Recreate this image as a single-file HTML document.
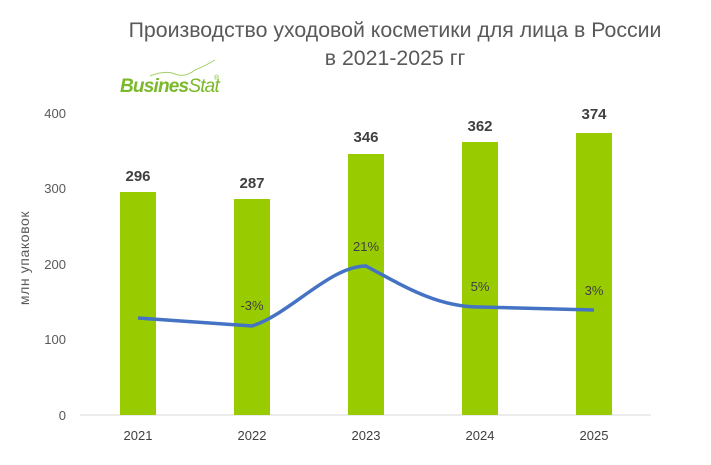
<!DOCTYPE html>
<html><head><meta charset="utf-8"><style>
body{margin:0;background:#fff;}
</style></head><body>
<svg width="711" height="460" xmlns="http://www.w3.org/2000/svg" font-family="Liberation Sans, sans-serif">
<rect width="711" height="460" fill="#fff"/>
<text x="395" y="37" font-size="21.3" fill="#595959" text-anchor="middle">Производство уходовой косметики для лица в России</text>
<text x="395" y="65" font-size="21.3" fill="#595959" text-anchor="middle">в 2021-2025 гг</text>
<path d="M150 76 Q165 70 175 74 T195 70 Q205 66 215 60" stroke="#a6cf6a" stroke-width="1" fill="none"/>
<text x="120" y="92" font-size="19" font-weight="bold" font-style="italic" fill="#7ab929" letter-spacing="-0.8">Busines<tspan font-weight="normal">Stat</tspan></text>
<text x="214" y="80" font-size="7" fill="#7ab929">®</text>
<g font-size="13" fill="#595959" text-anchor="end">
<text x="66" y="420">0</text><text x="66" y="344">100</text><text x="66" y="269">200</text><text x="66" y="193">300</text><text x="66" y="118">400</text>
</g>
<text transform="translate(29,258) rotate(-90)" font-size="14" fill="#595959" text-anchor="middle" letter-spacing="0.6">млн  упаковок</text>
<line x1="80" y1="415" x2="651" y2="415" stroke="#d9d9d9"/>
<g fill="#99cc00">
<rect x="120" y="192" width="36" height="223"/>
<rect x="234" y="199" width="36" height="216"/>
<rect x="348" y="154" width="36" height="261"/>
<rect x="462" y="142" width="36" height="273"/>
<rect x="576" y="133" width="36" height="282"/>
</g>
<g font-size="15" font-weight="bold" fill="#404040" text-anchor="middle">
<text x="138" y="181">296</text><text x="252" y="188">287</text><text x="366" y="142">346</text><text x="480" y="131">362</text><text x="594" y="119">374</text>
</g>
<path d="M138 318 L252 326 C290 314 330 266 366 266 C410 290 440 307 480 307 L594 310" stroke="#4472c4" stroke-width="3.5" fill="none"/>
<g font-size="13" fill="#404040" text-anchor="middle">
<text x="252" y="310">-3%</text><text x="366" y="251">21%</text><text x="480" y="291">5%</text><text x="594" y="295">3%</text>
</g>
<g font-size="13" fill="#404040" text-anchor="middle">
<text x="138" y="440">2021</text><text x="252" y="440">2022</text><text x="366" y="440">2023</text><text x="480" y="440">2024</text><text x="594" y="440">2025</text>
</g>
</svg>
</body></html>
